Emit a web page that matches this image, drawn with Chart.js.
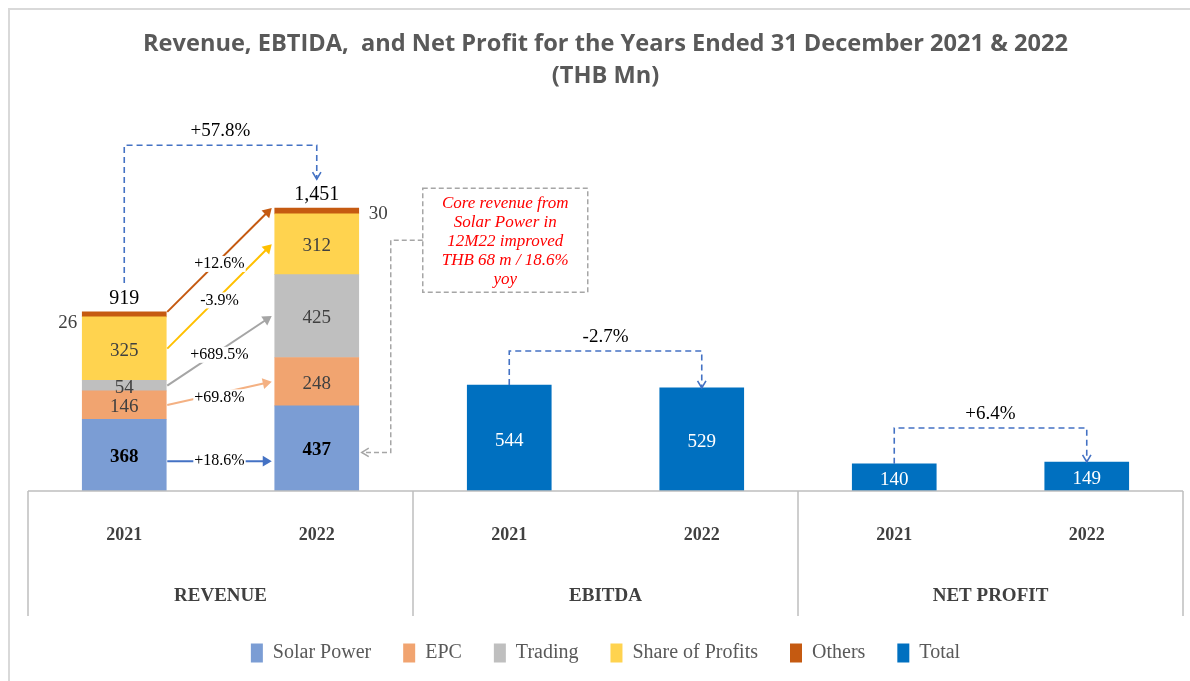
<!DOCTYPE html>
<html>
<head>
<meta charset="utf-8">
<script src="https://cdn.jsdelivr.net/npm/chart.js@4.4.1/dist/chart.umd.min.js"></script>
<style>
    html, body { margin: 0; padding: 0; background: #fff; }
</style>
</head>
<body>
<canvas id="chart" width="1190" height="681"></canvas>
<script>
// values (THB Mn)
const categories = ['2021', '2022', '2021', '2022', '2021', '2022'];
const groups = ['REVENUE', 'EBITDA', 'NET PROFIT'];
const solarPower = [368, 437, null, null, null, null];
const epc = [146, 248, null, null, null, null];
const trading = [54, 425, null, null, null, null];
const shareOfProfits = [325, 312, null, null, null, null];
const others = [26, 30, null, null, null, null];
const total = [null, null, 544, 529, 140, 149];
const revenueTotals = [919, 1451];
const componentChanges = ['+18.6%', '+69.8%', '+689.5%', '-3.9%', '+12.6%'];
const totalChanges = ['+57.8%', '-2.7%', '+6.4%'];
const noteLines = ['Core revenue from', 'Solar Power in', '12M22 improved', 'THB 68 m / 18.6%', 'yoy'];

const barColors = ['#7b9dd4', '#f1a470', '#bfbfbf', '#ffd34f', '#c55a11', '#0070c0'];
const arrowColors = ['#4472c4', '#f4b183', '#a5a5a5', '#ffc000', '#c55a11'];
const serif = "'Liberation Serif', 'Times New Roman', serif";

function fmt(v) {
    return v.toLocaleString('en-US');
}

function arrowHead(ctx, x, y, angle, size, filled) {
    ctx.save();
    ctx.translate(x, y);
    ctx.rotate(angle);
    ctx.setLineDash([]);
    ctx.beginPath();
    ctx.moveTo(-size, -size * 0.6);
    ctx.lineTo(0, 0);
    ctx.lineTo(-size, size * 0.6);
    if (filled) {
        ctx.closePath();
        ctx.fill();
    } else {
        ctx.stroke();
    }
    ctx.restore();
}

function textWithBg(ctx, text, x, y) {
    let w = ctx.measureText(text).width;
    ctx.fillStyle = '#fff';
    ctx.fillRect(x - w / 2 - 1, y - 8, w + 2, 16);
    ctx.fillStyle = '#000';
    ctx.fillText(text, x, y);
}

const framePlugin = {
    id: 'frame',
    beforeDraw(chart) {
        let ctx = chart.ctx;
        ctx.save();
        ctx.strokeStyle = '#d9d9d9';
        ctx.lineWidth = 2;
        ctx.beginPath();
        ctx.moveTo(9, 681);
        ctx.lineTo(9, 9);
        ctx.lineTo(1190, 9);
        ctx.stroke();
        ctx.restore();
    }
};

const annotations = {
    id: 'annotations',
    afterDatasetsDraw(chart) {
        let ctx = chart.ctx, area = chart.chartArea, y = chart.scales.y;
        let catW = (area.right - area.left) / categories.length;
        ctx.save();

        // category box below the bars
        ctx.strokeStyle = '#bfbfbf';
        ctx.lineWidth = 1.5;
        ctx.beginPath();
        ctx.moveTo(area.left, area.bottom);
        ctx.lineTo(area.right, area.bottom);
        for (let k = 0; k <= groups.length; k++) {
            let gx = area.left + k * 2 * catW;
            ctx.moveTo(gx, area.bottom);
            ctx.lineTo(gx, area.bottom + 125);
        }
        ctx.stroke();
        ctx.fillStyle = '#404040';
        ctx.font = 'bold 19px ' + serif;
        ctx.textAlign = 'center';
        ctx.textBaseline = 'middle';
        groups.forEach((g, k) => {
            ctx.fillText(g, area.left + (k * 2 + 1) * catW, area.bottom + 105);
        });

        // labels inside stacked revenue bars
        let stacks = [solarPower, epc, trading, shareOfProfits, others];
        for (let s = 0; s < 4; s++) {
            let meta = chart.getDatasetMeta(s);
            for (let j = 0; j < 2; j++) {
                let bar = meta.data[j];
                ctx.fillStyle = s === 0 ? '#000' : '#404040';
                ctx.font = (s === 0 ? 'bold ' : '') + '19px ' + serif;
                ctx.fillText(stacks[s][j], bar.x, (bar.y + bar.base) / 2 + 2);
            }
        }
        let oMeta = chart.getDatasetMeta(4);
        ctx.font = '19px ' + serif;
        ctx.fillStyle = '#404040';
        ctx.textAlign = 'right';
        ctx.fillText(others[0], oMeta.data[0].x - oMeta.data[0].width / 2 - 5, oMeta.data[0].y + 11);
        ctx.textAlign = 'left';
        ctx.fillText(others[1], oMeta.data[1].x + oMeta.data[1].width / 2 + 10, oMeta.data[1].y + 6);

        // revenue totals
        ctx.textAlign = 'center';
        ctx.fillStyle = '#000';
        ctx.font = '20px ' + serif;
        revenueTotals.forEach((t, j) => {
            ctx.fillText(fmt(t), oMeta.data[j].x, y.getPixelForValue(t) - 13);
        });

        // labels inside total bars
        let tMeta = chart.getDatasetMeta(5);
        ctx.fillStyle = '#fff';
        ctx.font = '19px ' + serif;
        for (let j = 2; j < 6; j++) {
            let bar = tMeta.data[j];
            ctx.fillText(total[j], bar.x, (bar.y + bar.base) / 2 + 3);
        }

        // component change arrows 2021 -> 2022
        ctx.font = '16px ' + serif;
        for (let s = 0; s < 5; s++) {
            let meta = chart.getDatasetMeta(s);
            let a = meta.data[0], b = meta.data[1];
            let y0 = s === 4 ? a.y : (a.y + a.base) / 2;
            let y1 = s === 4 ? b.y : (b.y + b.base) / 2;
            if (s === 0) { y0 += 6; y1 = y0; }
            let x0 = a.x + a.width / 2 + 1, x1 = b.x - b.width / 2 - 3;
            let ang = Math.atan2(y1 - y0, x1 - x0);
            ctx.strokeStyle = arrowColors[s];
            ctx.fillStyle = arrowColors[s];
            ctx.lineWidth = 2;
            ctx.setLineDash([]);
            ctx.beginPath();
            ctx.moveTo(x0, y0);
            ctx.lineTo(x1 - 4 * Math.cos(ang), y1 - 4 * Math.sin(ang));
            ctx.stroke();
            arrowHead(ctx, x1, y1, ang, 9, true);
            textWithBg(ctx, componentChanges[s], (x0 + x1) / 2, (y0 + y1) / 2 + (s === 0 ? 0 : 4));
        }

        // dashed growth connectors between the two years
        let tops = [
            [y.getPixelForValue(revenueTotals[0]) - 29, y.getPixelForValue(revenueTotals[1]) - 29, oMeta.data[0].x, oMeta.data[1].x],
            [tMeta.data[2].y, tMeta.data[3].y, tMeta.data[2].x, tMeta.data[3].x],
            [tMeta.data[4].y, tMeta.data[5].y, tMeta.data[4].x, tMeta.data[5].x]
        ];
        ctx.strokeStyle = '#4472c4';
        ctx.lineWidth = 1.6;
        tops.forEach((t, k) => {
            let lineY = Math.min(t[0], t[1]) - 34;
            ctx.setLineDash([6, 4]);
            ctx.beginPath();
            ctx.moveTo(t[2], t[0]);
            ctx.lineTo(t[2], lineY);
            ctx.lineTo(t[3], lineY);
            ctx.lineTo(t[3], t[1]);
            ctx.stroke();
            arrowHead(ctx, t[3], t[1], Math.PI / 2, 7, false);
            ctx.fillStyle = '#000';
            ctx.font = '19px ' + serif;
            ctx.fillText(totalChanges[k], (t[2] + t[3]) / 2, lineY - 14);
        });

        // callout note on solar power revenue
        let sBar = chart.getDatasetMeta(0).data[1];
        let bx = sBar.x + sBar.width / 2 + 64, by = y.getPixelForValue(1451) - 20;
        let bw = 165, bh = 104;
        ctx.strokeStyle = '#a6a6a6';
        ctx.lineWidth = 1.5;
        ctx.setLineDash([5, 3]);
        ctx.strokeRect(bx, by, bw, bh);
        ctx.beginPath();
        let ey = (sBar.y + sBar.base) / 2 + 4;
        ctx.moveTo(bx, by + bh / 2);
        ctx.lineTo(bx - 32, by + bh / 2);
        ctx.lineTo(bx - 32, ey);
        ctx.lineTo(sBar.x + sBar.width / 2 + 3, ey);
        ctx.stroke();
        arrowHead(ctx, sBar.x + sBar.width / 2 + 3, ey, Math.PI, 7, false);
        ctx.fillStyle = '#ff0000';
        ctx.font = 'italic 17px ' + serif;
        noteLines.forEach((l, i) => {
            ctx.fillText(l, bx + bw / 2, by + 15 + i * 19);
        });

        ctx.restore();
    }
};

new Chart(document.getElementById('chart'), {
    type: 'bar',
    data: {
        labels: categories,
        datasets: [
            { label: 'Solar Power', data: solarPower, backgroundColor: barColors[0] },
            { label: 'EPC', data: epc, backgroundColor: barColors[1] },
            { label: 'Trading', data: trading, backgroundColor: barColors[2] },
            { label: 'Share of Profits', data: shareOfProfits, backgroundColor: barColors[3] },
            { label: 'Others', data: others, backgroundColor: barColors[4] },
            { label: 'Total', data: total, backgroundColor: barColors[5] }
        ]
    },
    options: {
        responsive: false,
        animation: false,
        layout: { padding: { left: 28, right: 7, top: 0, bottom: 8 } },
        datasets: { bar: { barThickness: 84, skipNull: true } },
        plugins: {
            title: {
                display: true,
                text: ['Revenue, EBTIDA,  and Net Profit for the Years Ended 31 December 2021 & 2022', '(THB Mn)'],
                color: '#595959',
                font: { family: "'Open Sans', sans-serif", size: 23.6, weight: 'bold', lineHeight: 1.36 },
                padding: { top: 28, bottom: 9 }
            },
            legend: {
                position: 'bottom',
                labels: {
                    color: '#595959',
                    font: { family: serif, size: 20 },
                    boxWidth: 12,
                    boxHeight: 19,
                    padding: 32
                }
            },
            tooltip: { enabled: false }
        },
        scales: {
            x: {
                stacked: true,
                grid: { display: false, drawTicks: false },
                border: { display: false },
                ticks: { color: '#404040', font: { family: serif, size: 18, weight: 'bold' }, padding: 34 },
                afterFit(scale) { scale.height = 120; }
            },
            y: {
                stacked: true,
                display: false,
                min: 0,
                max: 2000
            }
        }
    },
    plugins: [framePlugin, annotations]
});
</script>
</body>
</html>
